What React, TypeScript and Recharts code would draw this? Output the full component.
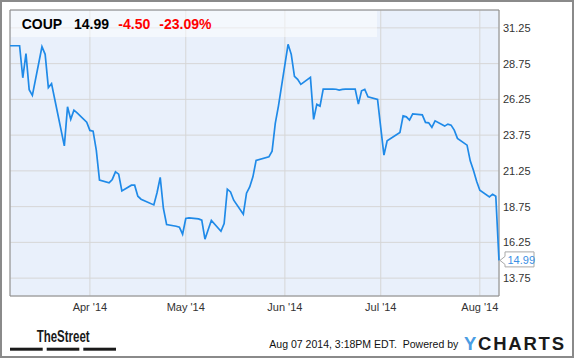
import React from 'react';
import { LineChart, Line, XAxis, YAxis, CartesianGrid, ReferenceArea } from 'recharts';

const ticker = 'COUP';
const lastPrice = '14.99';
const change = '-4.50';
const changePct = '-23.09%';
const timestamp = 'Aug 07 2014, 3:18PM EDT.  Powered by';

const dates = [
  '2014-03-07', '2014-03-10', '2014-03-11', '2014-03-12', '2014-03-13', '2014-03-14',
  '2014-03-17', '2014-03-18', '2014-03-19', '2014-03-20', '2014-03-21',
  '2014-03-24', '2014-03-25', '2014-03-26', '2014-03-27', '2014-03-28', '2014-03-31',
  '2014-04-01', '2014-04-02', '2014-04-03', '2014-04-04',
  '2014-04-07', '2014-04-08', '2014-04-09', '2014-04-10', '2014-04-11',
  '2014-04-14', '2014-04-15', '2014-04-16', '2014-04-17',
  '2014-04-21', '2014-04-22', '2014-04-23', '2014-04-24', '2014-04-25',
  '2014-04-28', '2014-04-29', '2014-04-30', '2014-05-01', '2014-05-02',
  '2014-05-05', '2014-05-06', '2014-05-07', '2014-05-08', '2014-05-09',
  '2014-05-12', '2014-05-13', '2014-05-14', '2014-05-15', '2014-05-16',
  '2014-05-19', '2014-05-20', '2014-05-21', '2014-05-22', '2014-05-23',
  '2014-05-27', '2014-05-28', '2014-05-29', '2014-05-30',
  '2014-06-02', '2014-06-03', '2014-06-04', '2014-06-05', '2014-06-06',
  '2014-06-09', '2014-06-10', '2014-06-11', '2014-06-12', '2014-06-13',
  '2014-06-16', '2014-06-17', '2014-06-18', '2014-06-19', '2014-06-20',
  '2014-06-23', '2014-06-24', '2014-06-25', '2014-06-26', '2014-06-27', '2014-06-30',
  '2014-07-01', '2014-07-02', '2014-07-03',
  '2014-07-07', '2014-07-08', '2014-07-09', '2014-07-10', '2014-07-11',
  '2014-07-14', '2014-07-15', '2014-07-16', '2014-07-17', '2014-07-18',
  '2014-07-21', '2014-07-22', '2014-07-23', '2014-07-24', '2014-07-25',
  '2014-07-28', '2014-07-29', '2014-07-30', '2014-07-31', '2014-08-01',
  '2014-08-04', '2014-08-05', '2014-08-06', '2014-08-07',
];

const closes = [
  30.0, 30.0, 27.76, 29.45, 26.93, 26.53,
  29.93, 29.4, 27.07, 27.35, 26.26,
  23.0, 25.73, 24.85, 25.5, 25.31, 24.66,
  24.08, 24.03, 22.7, 20.6,
  20.41, 20.65, 21.18, 21.02, 19.85,
  20.25, 20.25, 19.48, 19.27,
  18.87, 19.72, 20.79, 18.62, 17.5,
  17.38, 17.31, 16.82, 17.92, 17.96,
  17.89, 17.8, 16.47, 17.13, 17.78,
  17.03, 17.57, 19.97, 19.78, 19.2,
  18.22, 19.69, 20.13, 20.83, 21.98,
  22.23, 22.63, 24.57, 25.8,
  30.1, 29.4, 27.86, 27.65, 27.3,
  27.79, 24.85, 25.9, 25.78, 26.97,
  26.97, 26.96, 26.9, 26.95, 26.97,
  26.97, 25.92, 26.85, 26.95, 26.43, 26.25,
  24.27, 22.35, 23.35,
  23.94, 25.1, 25.03, 24.8, 25.24,
  25.17, 24.64, 24.61, 24.29, 24.75,
  24.38, 24.52, 24.45, 24.1, 23.52,
  23.05, 21.95, 21.3, 20.53, 19.9,
  19.43, 19.62, 19.48, 14.99,
];

const xTickDates = ['2014-04-01', '2014-05-01', '2014-06-01', '2014-07-01', '2014-08-01'];
const xTickLabels = ["Apr '14", "May '14", "Jun '14", "Jul '14", "Aug '14"];
const yTicks = [13.75, 16.25, 18.75, 21.25, 23.75, 26.25, 28.75, 31.25];
const yDomain = [12.5, 32.5];

const DAY_MS = 86400000;
const toDay = (d: string) => Math.round((Date.parse(d) - Date.parse(dates[0])) / DAY_MS);

const data = dates.map((d, i) => ({ day: toDay(d), close: closes[i] }));
const lastDay = toDay(dates[dates.length - 1]);
const xTicks = xTickDates.map(toDay);
const xLabelOf = (v: number) => {
  const i = xTicks.indexOf(v);
  return i >= 0 ? xTickLabels[i] : '';
};

const FONT = "'Liberation Sans', Arial, sans-serif";
const LINE_COLOR = '#1f8ae8';

const YTick = (props: any) => {
  const { x, y, payload } = props;
  return (
    <text x={x} y={y} dy={4} fill="#333" fontSize={11} fontFamily={FONT} textAnchor="start">
      {Number(payload.value).toFixed(2)}
    </text>
  );
};

const LastLabel = (props: any) => {
  const { x, y, index } = props;
  if (index !== data.length - 1) return null;
  const bx = x + 6;
  const path = `M${x + 1},${y} L${bx},${y - 4} L${bx},${y - 8.5} L${bx + 29},${y - 8.5} L${bx + 29},${y + 6.5} L${bx},${y + 6.5} L${bx},${y + 4} Z`;
  return (
    <g>
      <path d={path} fill="#fff" stroke="#a8a8a8" strokeWidth={1} />
      <text x={bx + 2.5} y={y + 3.5} fill="#3a8fe4" fontSize={11} fontFamily={FONT}>
        {lastPrice}
      </text>
    </g>
  );
};

export default function App() {
  return (
    <div style={{ position: 'absolute', left: 0, top: 0, width: 575, height: 358, background: '#fff', fontFamily: FONT }}>
      <LineChart
        width={575}
        height={358}
        data={data}
        margin={{ top: 10, left: 10, right: 16, bottom: 32 }}
      >
        <CartesianGrid stroke="#d6d6d6" fill="#e9f0fb" horizontal vertical />
        <XAxis
          dataKey="day"
          type="number"
          domain={[0, lastDay]}
          ticks={xTicks}
          interval={0}
          tickFormatter={xLabelOf}
          tickLine={false}
          axisLine={false}
          tickSize={0}
          tickMargin={7}
          height={30}
          tick={{ fontSize: 11, fill: '#333', fontFamily: FONT }}
        />
        <YAxis
          orientation="right"
          type="number"
          domain={yDomain}
          ticks={yTicks}
          interval={0}
          allowDataOverflow
          tickLine={false}
          axisLine={false}
          tickSize={0}
          tickMargin={4}
          width={60}
          tick={<YTick />}
        />
        <ReferenceArea
          x1={0}
          x2={lastDay}
          y1={yDomain[0]}
          y2={yDomain[1]}
          fill="none"
          fillOpacity={0}
          stroke="#8a8a8a"
          strokeWidth={1}
        />
        <Line
          type="linear"
          dataKey="close"
          stroke={LINE_COLOR}
          strokeWidth={1.7}
          dot={false}
          isAnimationActive={false}
          label={<LastLabel />}
        />
      </LineChart>
      <svg
        width={575}
        height={358}
        style={{ position: 'absolute', left: 0, top: 0, pointerEvents: 'none' }}
      >
        <rect x={1} y={1} width={572} height={356} fill="none" stroke="#8a8a8a" strokeWidth={2} />
        <rect x={11} y={11} width={366} height={26} fill="#ffffff" fillOpacity={0.5} />
        <g fontFamily={FONT} fontWeight="bold" fontSize={14}>
          <text x={21.7} y={29} fill="#000">{ticker}</text>
          <text x={74} y={29} fill="#000">{lastPrice}</text>
          <text x={118.3} y={29} fill="#ff0000">{change}</text>
          <text x={159.3} y={29} fill="#ff0000">{changePct}</text>
        </g>
        <text
          x={36.7}
          y={341.7}
          fontFamily={FONT}
          fontWeight="bold"
          fontSize={16}
          fill="#1a1a1a"
          textLength={53}
          lengthAdjust="spacingAndGlyphs"
        >
          TheStreet
        </text>
        <rect x={10} y={347.7} width={32.7} height={3} fill="#1a1a1a" />
        <rect x={46.7} y={347.7} width={32.6} height={3} fill="#1a1a1a" />
        <rect x={83.3} y={347.7} width={32.7} height={3} fill="#1a1a1a" />
        <text
          x={269.3}
          y={347.5}
          fontFamily={FONT}
          fontSize={10.5}
          fill="#111"
          textLength={189}
          lengthAdjust="spacingAndGlyphs"
          style={{ whiteSpace: 'pre' }}
        >
          {timestamp}
        </text>
        <text
          x={464}
          y={350}
          fontFamily={FONT}
          fontWeight="bold"
          fontSize={18.5}
          textLength={100}
          lengthAdjust="spacing"
        >
          <tspan fill="#4a9de3">Y</tspan>
          <tspan fill="#1a1a1a">CHARTS</tspan>
        </text>
      </svg>
    </div>
  );
}
